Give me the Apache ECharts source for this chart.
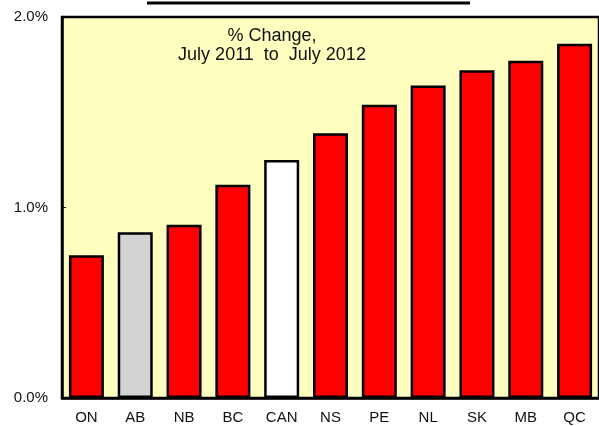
<!DOCTYPE html>
<html>
<head>
<meta charset="utf-8">
<script src="https://cdn.jsdelivr.net/npm/echarts@6/dist/echarts.min.js"></script>
<style>
  html, body { margin: 0; padding: 0; background: #ffffff; }
  #chart { width: 599px; height: 426px; }
</style>
</head>
<body>
<div id="chart"></div>
<script>
// Provinces and national figure, % change July 2011 to July 2012
const provinces = ['ON', 'AB', 'NB', 'BC', 'CAN', 'NS', 'PE', 'NL', 'SK', 'MB', 'QC'];
const pctChange = [0.75, 0.87, 0.91, 1.12, 1.25, 1.39, 1.54, 1.64, 1.72, 1.77, 1.86];
const barColors = ['#ff0000', '#d3d3d3', '#ff0000', '#ff0000', '#ffffff', '#ff0000',
                   '#ff0000', '#ff0000', '#ff0000', '#ff0000', '#ff0000'];
const yTicks = [0, 1, 2];
const noteLines = ['% Change,', 'July 2011  to  July 2012'];

const chart = echarts.init(document.getElementById('chart'), null, { renderer: 'canvas' });

const font = 'Liberation Sans, Arial, sans-serif';

chart.setOption({
  animation: false,
  backgroundColor: '#ffffff',
  grid: {
    left: 62, top: 17, width: 539, height: 381,
    show: true,
    backgroundColor: '#ffffc0',
    borderColor: '#000000',
    borderWidth: 2.5
  },
  xAxis: {
    type: 'category',
    data: provinces,
    axisLine: { show: true, lineStyle: { color: '#000', width: 2.5 } },
    axisTick: { show: false },
    axisLabel: { color: '#111', fontFamily: font, fontSize: 15, margin: 12 }
  },
  yAxis: {
    type: 'value',
    min: yTicks[0],
    max: yTicks[yTicks.length - 1],
    interval: 1,
    splitLine: { show: false },
    axisLine: { show: true, lineStyle: { color: '#000', width: 2.5 } },
    axisTick: { show: true, inside: true, length: 4, lineStyle: { color: '#000', width: 1 } },
    axisLabel: {
      color: '#111', fontFamily: font, fontSize: 15, margin: 14,
      formatter: v => v.toFixed(1) + '%'
    }
  },
  series: [{
    type: 'bar',
    barWidth: 35,
    data: pctChange.map((v, i) => ({
      value: v,
      itemStyle: { color: barColors[i] }
    })),
    itemStyle: { borderColor: '#000', borderWidth: 2.5 }
  }],
  graphic: [
    {
      type: 'line',
      shape: { x1: 147, y1: 3, x2: 470, y2: 3 },
      style: { stroke: '#000', lineWidth: 3 }
    },
    {
      type: 'text',
      x: 272, y: 27,
      style: {
        text: noteLines.join('\n'),
        align: 'center',
        verticalAlign: 'top',
        font: '18px ' + font,
        fill: '#111',
        lineHeight: 19
      }
    }
  ]
});
</script>
</body>
</html>
